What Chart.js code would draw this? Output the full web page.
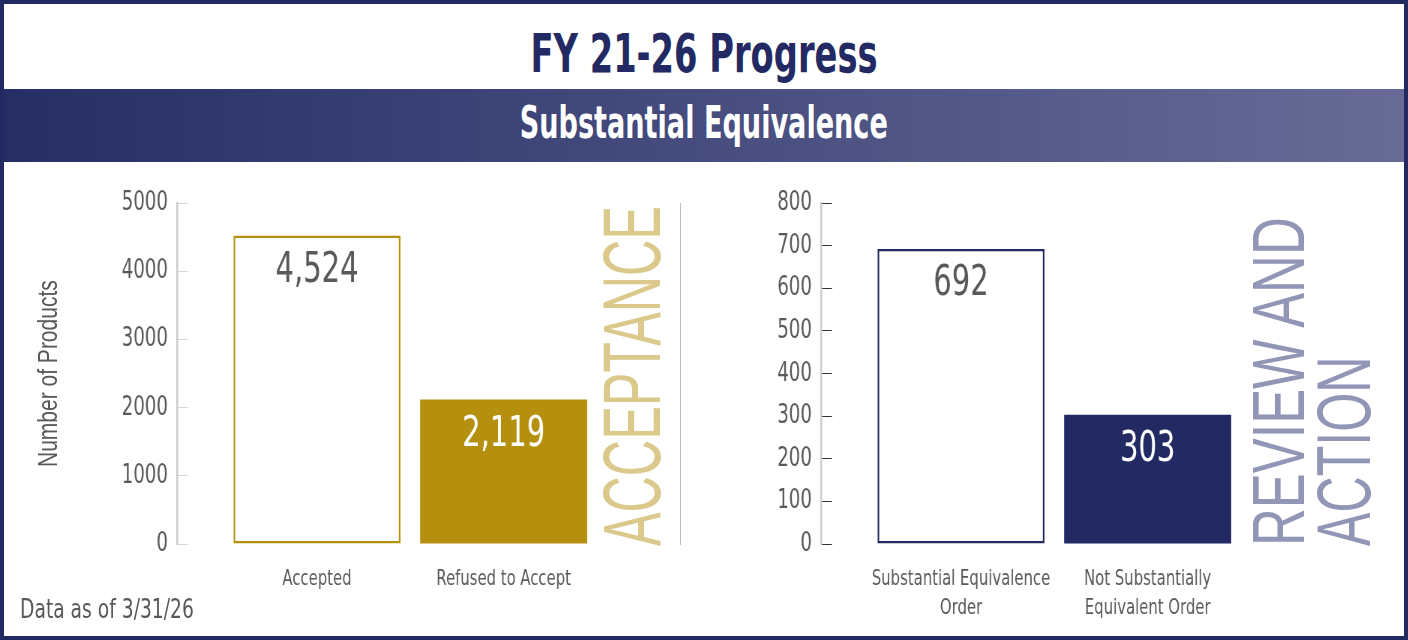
<!DOCTYPE html>
<html>
<head>
<meta charset="utf-8">
<script src="https://cdn.jsdelivr.net/npm/chart.js@4"></script>
<style>
  html, body { margin: 0; padding: 0; }
  body { width: 1408px; height: 640px; position: relative; overflow: hidden; background: #fff; }
  .frame { position: absolute; left: 0; top: 0; width: 1400px; height: 632px; border: 4px solid #232a63; }
  .title { position: absolute; left: 0; width: 1408px; top: 22px; text-align: center; }
  .title span { display: inline-block; font: bold 54px "DejaVu Sans Condensed", sans-serif; color: #232a63; transform: scaleX(0.694); }
  .banner { position: absolute; left: 4px; width: 1400px; top: 89px; height: 73px; background: linear-gradient(to right, #262e65, #676b96); text-align: center; }
  .banner span { display: inline-block; margin-top: 8px; font: bold 44px "DejaVu Sans Condensed", sans-serif; color: #fff; transform: scaleX(0.685); }
  .vt { position: absolute; font-family: "Liberation Sans", Arial, sans-serif; white-space: nowrap; transform-origin: 0 0; line-height: 1; }
  .note { position: absolute; left: 20px; top: 594px; font: 26px "DejaVu Sans Condensed", sans-serif; color: #595959; transform: scaleX(0.8); transform-origin: 0 0; white-space: nowrap; }
  .sep { position: absolute; left: 680px; top: 203px; width: 1px; height: 342px; background: #bdbdbd; }
  .wrap { position: absolute; top: 180px; width: 796px; height: 455px; transform: scaleX(0.75); transform-origin: 0 0; }
</style>
</head>
<body>
<div class="frame"></div>
<div class="title"><span>FY 21-26 Progress</span></div>
<div class="banner"><span>Substantial Equivalence</span></div>

<div class="wrap" style="left:0;"><canvas id="left"></canvas></div>
<div class="wrap" style="left:644px;"><canvas id="right"></canvas></div>

<div class="vt" style="left:34px;top:467px;font-size:28px;color:#595959;transform:rotate(-90deg) scaleX(0.75);">Number of Products</div>
<div class="sep"></div>
<div class="vt" style="left:591px;top:546px;font-size:82px;color:#dac98b;transform:rotate(-90deg) scaleX(0.613);">ACCEPTANCE</div>
<div class="vt" style="left:1241px;top:546px;font-size:75px;color:#9196b6;transform:rotate(-90deg) scaleX(0.698);">REVIEW AND</div>
<div class="vt" style="left:1306px;top:546px;font-size:76px;color:#9196b6;transform:rotate(-90deg) scaleX(0.66);">ACTION</div>

<div class="note">Data as of 3/31/26</div>

<script>
const FONT = "'DejaVu Sans Condensed', sans-serif";
const K = 0.75; // horizontal squeeze of the chart canvases (condensed look)

// acceptance chart
const accCategories = ["Accepted", "Refused to Accept"];
const accValues = [4524, 2119];
const accTicks = [0, 1000, 2000, 3000, 4000, 5000];

// review and action chart
const revCategories = [["Substantial Equivalence", "Order"], ["Not Substantially", "Equivalent Order"]];
const revValues = [692, 303];
const revTicks = [0, 100, 200, 300, 400, 500, 600, 700, 800];

const GOLD = "#b5900f";
const NAVY = "#232a63";

// labels inside the bars, just under the top
const barLabels = {
  id: "barLabels",
  afterDatasetsDraw(chart) {
    const ctx = chart.ctx;
    const meta = chart.getDatasetMeta(0);
    const ds = chart.data.datasets[0];
    ctx.save();
    ctx.font = "43px " + FONT;
    ctx.textAlign = "center";
    ctx.textBaseline = "middle";
    meta.data.forEach((bar, i) => {
      ctx.fillStyle = ds.labelColors[i];
      ctx.fillText(ds.data[i].y.toLocaleString("en-US"), bar.x, bar.y + 35);
    });
    ctx.restore();
  }
};

function makeChart(id, cats, vals, ticks, max, opts) {
  new Chart(document.getElementById(id), {
    type: "bar",
    data: {
      datasets: [{
        data: vals.map((v, i) => ({ x: i, y: v })),
        backgroundColor: ["#ffffff", opts.color],
        borderColor: opts.color,
        borderWidth: [2.5, 0],
        borderSkipped: false,
        categoryPercentage: 1,
        barPercentage: 0.895,
        labelColors: ["#595959", "#ffffff"]
      }]
    },
    options: {
      responsive: true,
      maintainAspectRatio: false,
      animation: false,
      layout: { padding: { top: 23, left: 0, right: 0, bottom: 0 } },
      plugins: { legend: { display: false }, tooltip: { enabled: false } },
      scales: {
        x: {
          type: "linear",
          offset: false,
          min: -0.75,
          max: 1.5,
          grid: { display: false },
          border: { display: false },
          afterBuildTicks: s => { s.ticks = cats.map((c, i) => ({ value: i })); },
          afterFit: s => { s.height = 91; s.paddingLeft = 0; s.paddingRight = 0; },
          ticks: {
            autoSkip: false,
            maxRotation: 0,
            padding: 13,
            color: "#595959",
            font: { family: FONT, size: 22, lineHeight: 1.3 },
            callback: v => cats[v]
          }
        },
        y: {
          min: 0,
          max: max,
          afterBuildTicks: s => { s.ticks = ticks.map(v => ({ value: v })); },
          afterFit: s => { s.width = 177 / K; s.paddingTop = 0; s.paddingBottom = 0; },
          grid: { drawOnChartArea: false, tickLength: -11 / K, color: opts.tickColor, lineWidth: 1 },
          border: { color: "#cccccc", width: 2.5 },
          ticks: {
            padding: 20 / K,
            color: "#595959",
            font: { family: FONT, size: 27 },
            callback: v => String(v)
          }
        }
      }
    },
    plugins: [barLabels]
  });
}

makeChart("left", accCategories, accValues, accTicks, 5000,
  { color: GOLD, tickColor: "#d6d6d6" });
makeChart("right", revCategories, revValues, revTicks, 800,
  { color: NAVY, tickColor: "#333333" });
</script>
</body>
</html>
